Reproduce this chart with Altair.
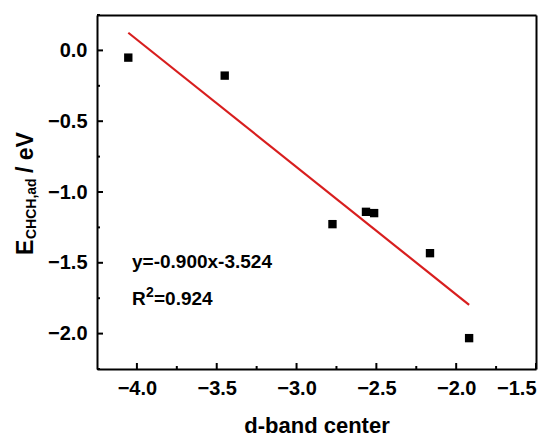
import altair as alt
import pandas as pd

# d-band centre vs CHCH adsorption energy
d_band = [-4.054, -3.45, -2.775, -2.565, -2.514, -2.164, -1.919]
e_ads = [-0.051, -0.178, -1.227, -1.140, -1.149, -1.432, -2.032]

# linear fit reported on the chart
slope = -0.900
intercept = -3.524
r2 = 0.924

x_major = [-4.0, -3.5, -3.0, -2.5, -2.0, -1.5]
x_minor = [-3.75, -3.25, -2.75, -2.25, -1.75]
y_major = [0.0, -0.5, -1.0, -1.5, -2.0]
y_minor = [0.25, -0.25, -0.75, -1.25, -1.75, -2.25]

W, H = 439, 354
FONT = "Liberation Sans"

points = pd.DataFrame({"x": d_band, "y": e_ads})
fit_x = [min(d_band), max(d_band)]
fit = pd.DataFrame({"x": fit_x, "y": [slope * v + intercept for v in fit_x]})

xs = alt.Scale(domain=[-4.25, -1.5], nice=False, zero=False)
ys = alt.Scale(domain=[-2.25, 0.25], nice=False, zero=False)

frame_style = dict(domain=True, domainColor="black", domainWidth=2, domainOpacity=1,
                   ticks=False, grid=False)

x_axis = alt.Axis(values=x_major, format=".1f", **frame_style,
                  labelFont=FONT, labelFontSize=20, labelFontWeight="bold",
                  labelColor="black", labelPadding=9,
                  title="d-band center", titleFont=FONT, titleFontSize=22,
                  titleFontWeight="bold", titleColor="black", titlePadding=17)
y_axis = alt.Axis(values=y_major, format=".1f", **frame_style,
                  labelFont=FONT, labelFontSize=20, labelFontWeight="bold",
                  labelColor="black", labelPadding=10, title=None)

# top and right edges of the frame
x_top = alt.Axis(orient="top", labels=False, title=None, **frame_style)
y_right = alt.Axis(orient="right", labels=False, title=None, **frame_style)

scatter = alt.Chart(points).mark_point(shape="square", filled=True, color="black",
                                       size=70, opacity=1).encode(
    x=alt.X("x:Q", scale=xs, axis=x_axis),
    y=alt.Y("y:Q", scale=ys, axis=y_axis),
)

line = alt.Chart(fit).mark_line(color="#d81e1e", strokeWidth=2.2).encode(
    x=alt.X("x:Q", scale=xs, axis=x_top),
    y=alt.Y("y:Q", scale=ys, axis=y_right),
)

# inward-pointing tick marks
def xticks(vals, length):
    return alt.Chart(pd.DataFrame({"x": vals})).mark_rule(
        color="black", strokeWidth=2, opacity=1).encode(
        x=alt.X("x:Q", scale=xs, axis=None), y=alt.value(H), y2=alt.value(H - length)
    )

def yticks(vals, length):
    return alt.Chart(pd.DataFrame({"y": vals})).mark_rule(
        color="black", strokeWidth=2, opacity=1).encode(
        y=alt.Y("y:Q", scale=ys, axis=None), x=alt.value(0), x2=alt.value(length)
    )

# equation labels (R-squared written with a raised 2)
eq_parts = pd.DataFrame({
    "t": [f"y={slope:.3f}x{intercept:.3f}", "R", "2", f"={r2:.3f}"],
    "px": [35, 35, 49, 57],
    "py": [253, 290, 282, 290],
    "fs": [19, 19, 14, 19],
})
eq = alt.Chart(eq_parts).mark_text(
    align="left", baseline="alphabetic", font=FONT, fontWeight="bold",
    color="black").encode(
    x=alt.X("px:Q", scale=None, axis=None), y=alt.Y("py:Q", scale=None, axis=None),
    text="t:N", size=alt.Size("fs:Q", scale=None, legend=None))

# y-axis title with subscript, drawn as rotated text pieces
ytitle_parts = pd.DataFrame({
    "t": ["E", "CHCH,ad", "/ eV"],
    "px": [-64, -61, -64],
    "py": [240, 224, 158],
    "fs": [23, 14, 23],
})
ytitle = alt.Chart(ytitle_parts).mark_text(
    align="left", baseline="alphabetic", angle=270, font=FONT, fontWeight="bold",
    color="black").encode(
    x=alt.X("px:Q", scale=None, axis=None), y=alt.Y("py:Q", scale=None, axis=None),
    text="t:N", size=alt.Size("fs:Q", scale=None, legend=None))

chart = alt.layer(
    line, scatter,
    xticks(x_major, 6), xticks(x_minor, 3),
    yticks(y_major, 6), yticks(y_minor, 3),
    eq, ytitle,
).resolve_axis(x="independent", y="independent").properties(
    width=W, height=H,
    autosize=alt.AutoSizeParams(type="none"),
    padding={"left": 97, "top": 15, "right": 16, "bottom": 68},
).configure(background="white").configure_view(stroke=None)

chart.save("out.html", embed_options={"renderer": "svg", "actions": False})
